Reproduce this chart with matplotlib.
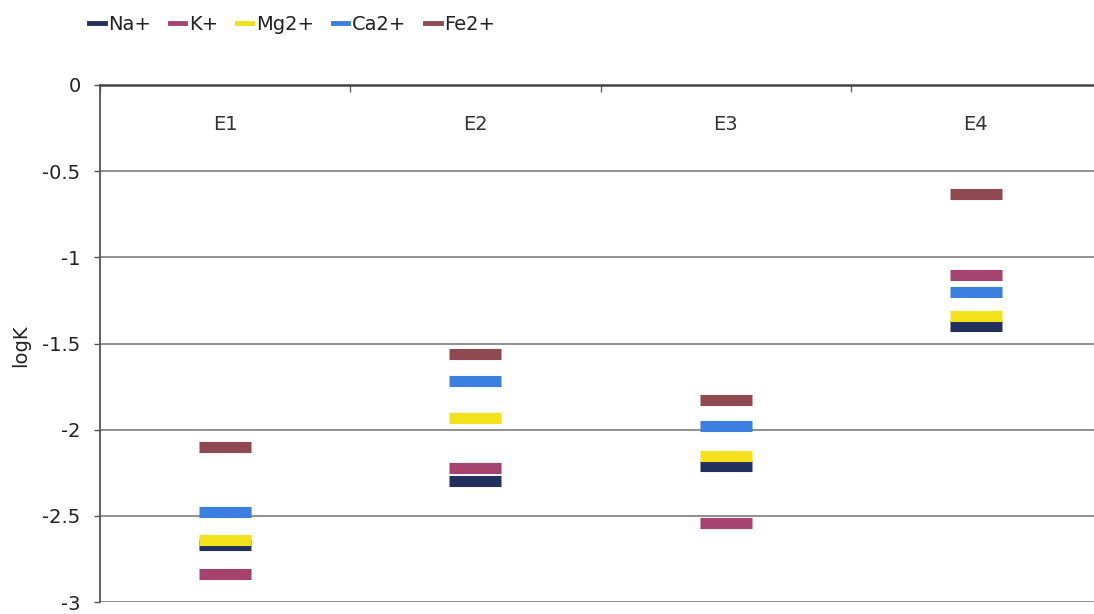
import matplotlib
matplotlib.use("Agg")
import matplotlib.pyplot as plt
from matplotlib.lines import Line2D

plt.rcParams['font.family'] = ['DejaVu Sans']

categories = ["E1", "E2", "E3", "E4"]
series_names = ["Na+", "K+", "Mg2+", "Ca2+", "Fe2+"]
na = [-2.67, -2.30, -2.21, -1.40]
k = [-2.84, -2.22, -2.54, -1.10]
mg = [-2.64, -1.93, -2.15, -1.34]
ca = [-2.48, -1.72, -1.98, -1.20]
fe = [-2.10, -1.56, -1.83, -0.63]
series_values = [na, k, mg, ca, fe]
colors = ["#23305e", "#a5436f", "#f3e11c", "#3b7fe0", "#8e4a50"]
yticks = [0, -0.5, -1, -1.5, -2, -2.5, -3]
ytick_labels = ["0", "-0.5", "-1", "-1.5", "-2", "-2.5", "-3"]

FS = 14
W, H = 1094, 614
fig = plt.figure(figsize=(W / 100, H / 100), dpi=100)
ax = fig.add_axes([100 / W, 1 - 602 / H, 1001 / W, 517 / H])

x = [i + 0.5 for i in range(len(categories))]
for name, vals, c in zip(series_names, series_values, colors):
    ax.plot(x, vals, linestyle='none', marker='_', ms=37.5, mew=8,
            color=c, label=name, zorder=3)

ax.set_xlim(0, len(categories))
ax.set_ylim(-3, 0)
ax.set_yticks(yticks)
ax.set_yticklabels(ytick_labels)
ax.tick_params(axis='y', direction='out', length=4, width=1, color='#555555',
               pad=10, labelsize=FS, labelcolor='#222222')
ax.xaxis.set_ticks_position('top')
ax.set_xticks(range(len(categories) + 1))
ax.set_xticklabels([])
ax.tick_params(axis='x', direction='in', length=5, width=1, color='#666666')

for yv in yticks[1:]:
    ax.axhline(yv, color='#888888', lw=1.3, zorder=1)

for s in ['right', 'bottom']:
    ax.spines[s].set_visible(False)
ax.spines['top'].set_color('#444444')
ax.spines['top'].set_linewidth(1.8)
ax.spines['left'].set_color('#555555')
ax.spines['left'].set_linewidth(1.3)

for xi, cat in zip(x, categories):
    ax.text(xi, -0.23, cat, ha='center', va='center', fontsize=FS, color='#333333')

fig.text(21 / W, 1 - 346 / H, "logK", rotation=90, ha='center', va='center',
         fontsize=FS, color='#222222')

handles = [Line2D([0], [0], color=c, lw=3.5) for c in colors]
fig.legend(handles, series_names, loc='center left',
           bbox_to_anchor=(89 / W, 1 - 24 / H), ncol=5, frameon=False,
           fontsize=FS, handlelength=0.8, handletextpad=0.2,
           columnspacing=0.95, labelcolor='#222222', borderaxespad=0,
           borderpad=0)

fig.savefig("out.png", dpi=100)
